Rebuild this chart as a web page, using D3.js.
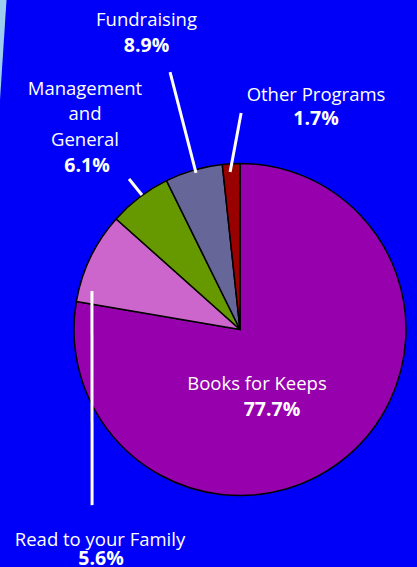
<!DOCTYPE html>
<html>
<head>
<meta charset="utf-8">
<script src="https://cdn.jsdelivr.net/npm/d3@7"></script>
<style>
  html, body { margin: 0; padding: 0; background: #0000f8; }
  svg { display: block; }
  text { font-family: "Open Sans", "Noto Sans", sans-serif; fill: #ffffff; }
</style>
</head>
<body>
<svg id="chart" width="417" height="567"></svg>
<script>
// ---- data ----
// slice sizes as drawn in the picture (clockwise from 12 o'clock)
const categories = ["Books for Keeps", "Read to your Family", "Management and General", "Fundraising", "Other Programs"];
const sliceValues = [77.7, 8.9, 6.1, 5.6, 1.7];
// percentages printed on the labels
const valueLabels = ["77.7%", "5.6%", "6.1%", "8.9%", "1.7%"];
const nameLines = [["Books for Keeps"], ["Read to your Family"], ["Management", "and", "General"], ["Fundraising"], ["Other Programs"]];
const colors = ["#9600ad", "#cc66cc", "#669900", "#666699", "#990000"];

// ---- layout (positions, not data) ----
const W = 417, H = 567;
const cx = 240, cy = 329.5, R = 166;
const nameSize = 18.5, valueSize = 19.5;
// label anchor (relative to pie centre) and leader line in polar form [angleDeg, radius]
const labelLayout = [
  { x: 17,   y: 60.5,  lineH: 26,   vdx: 15, leader: null },
  { x: -140, y: 216.5, lineH: 18.5, vdx: 1,  leader: [[284.6, 153], [220.1, 229.6]] },
  { x: -155, y: -235,  lineH: 25.7, vdx: 2,  leader: [[323.9, 166.4], [323.6, 187]] },
  { x: -93.5,y: -303.5,lineH: 25.7, vdx: 0,  leader: [[344.3, 162.6], [344.8, 266.8]] },
  { x: 76,   y: -229,  lineH: 24.5, vdx: 0,  leader: [[356.4, 157.8], [0.3, 216.5]] }
];

const svg = d3.select("#chart");
svg.append("rect").attr("width", W).attr("height", H).attr("fill", "#0000f8");
// light cyan corner strip
svg.append("path").attr("d", d3.line()([[0, 0], [6.5, 0], [0, 100]]) + "Z").attr("fill", "#9ccdf0");

const pie = d3.pie().sort(null).value(d => d)(sliceValues);
const arc = d3.arc().innerRadius(0).outerRadius(R);
const g = svg.append("g").attr("transform", `translate(${cx},${cy})`);

g.selectAll("path.slice").data(pie).join("path")
  .attr("class", "slice")
  .attr("d", arc)
  .attr("fill", (d, i) => colors[i])
  .attr("stroke", "#000")
  .attr("stroke-width", 1.5)
  .attr("stroke-linejoin", "round");

const polar = ([a, r]) => {
  const rad = a * Math.PI / 180;
  return [r * Math.sin(rad), -r * Math.cos(rad)];
};

labelLayout.forEach((L, i) => {
  if (L.leader) {
    const p1 = polar(L.leader[0]), p2 = polar(L.leader[1]);
    g.append("line")
      .attr("x1", p1[0]).attr("y1", p1[1])
      .attr("x2", p2[0]).attr("y2", p2[1])
      .attr("stroke", "#fff").attr("stroke-width", 3);
  }
  const lines = nameLines[i];
  lines.forEach((t, j) => {
    g.append("text").attr("x", L.x).attr("y", L.y + j * 25.7)
      .attr("text-anchor", "middle").attr("font-size", nameSize).text(t);
  });
  g.append("text").attr("x", L.x + L.vdx).attr("y", L.y + (lines.length - 1) * 25.7 + L.lineH)
    .attr("text-anchor", "middle").attr("font-size", valueSize).attr("font-weight", "bold").text(valueLabels[i]);
});
</script>
</body>
</html>
